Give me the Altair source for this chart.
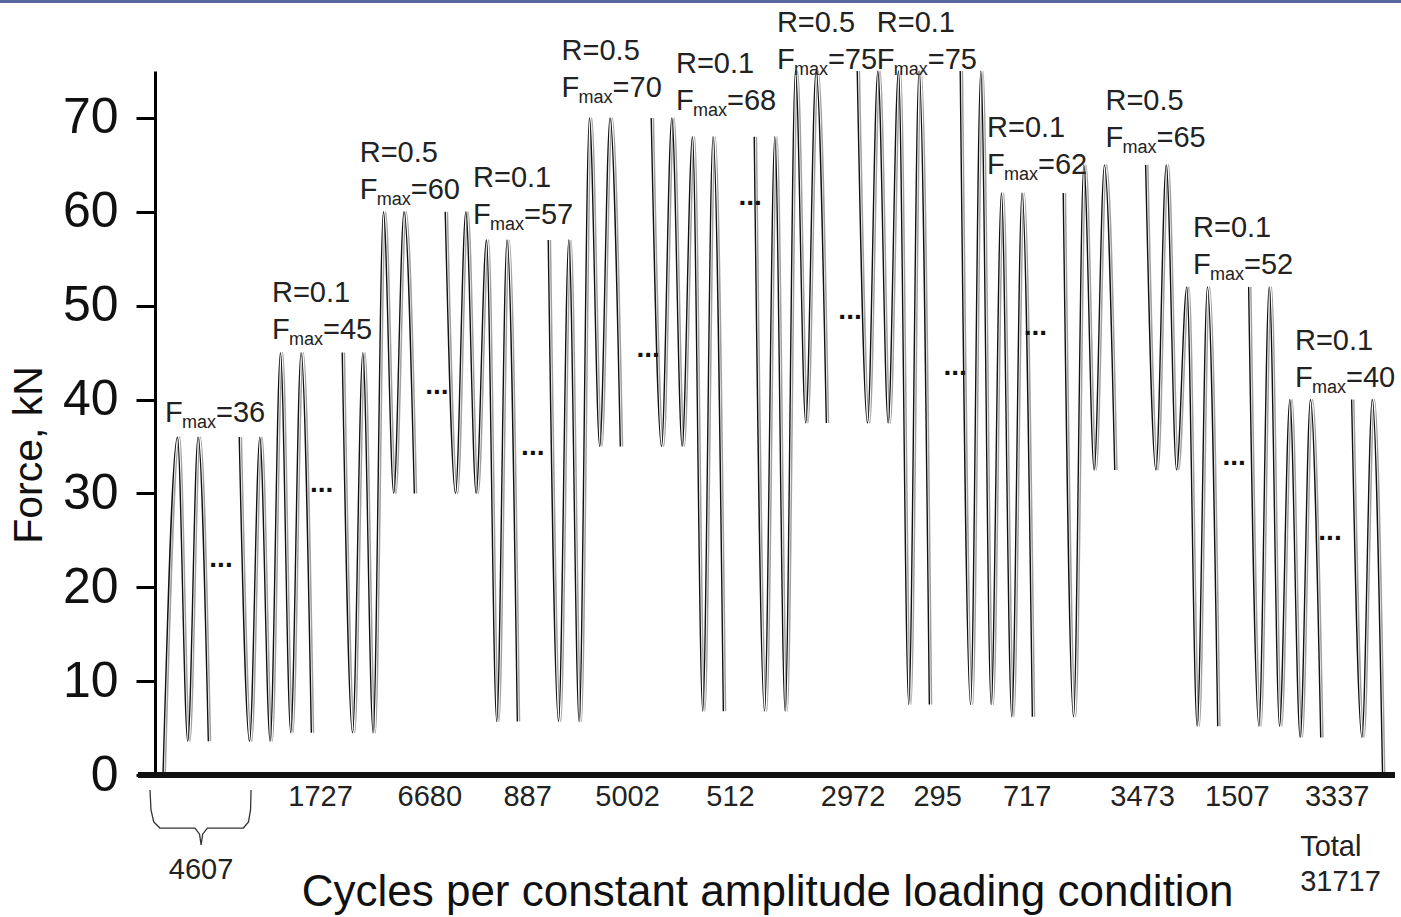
import altair as alt
import pandas as pd

# ---------------- data ----------------
fmax = [36, 45, 60, 57, 70, 68, 75, 75, 62, 65, 52, 40]          # kN
r_ratio = [0.1, 0.1, 0.5, 0.1, 0.5, 0.1, 0.5, 0.1, 0.1, 0.5, 0.1, 0.1]
cycles = ["4607", "1727", "6680", "887", "5002", "512", "2972", "295",
          "717", "3473", "1507", "3337"]
total_cycles = "31717"
restart_half = [3, 3, 3, 3, 3, 3, 3, 3, 1, 3, 3, 2]   # half cycles drawn after the "..."
show_r = [False] + [True] * 11
dots_level = [22.4, 30.4, 40.8, 34.3, 44.7, 60.9, 48.8, 42.8, 47.1, None, 33.2, 25.2]
y_ticks = [0, 10, 20, 30, 40, 50, 60, 70]

# ---------------- layout (half-cycle units / kN) ----------------
first_rise = 1.4
gap = 3
dots_shift = [1.23, 1.0, 2.2, 1.5, 2.7, 2.6, 2.3, 2.5, 0.3, None, 1.6, 0.9]
count_shift = [None, 0.9, 1.5, 1.0, 0.7, 0.7, 2.6, 0.8, -0.5, 2.7, 1.9, 1.6]
label_t = [0.19, 10.58, 19.1, 30.1, 38.7, 49.8, 59.6, 69.3, 80.0, 91.5, 100.0, 109.9]
label_v = [38.6, 47.4, 62.3, 59.7, 73.2, 71.8, 76.2, 76.2, 65.0, 67.9, 54.3, 42.3]

FONT = "Liberation Sans"

# ---------------- build waveform from the block list ----------------
rows = []
seg = 0
rows.append({"seg": seg, "t": 0.0, "F": 0.0})
t = first_rise
vend = []
for i, (fm, r) in enumerate(zip(fmax, r_ratio)):
    lo = fm * r
    for k, v in enumerate([fm, lo, fm, lo]):
        rows.append({"seg": seg, "t": t + k, "F": v})
    ve = t + 3
    vend.append(ve)
    seg += 1
    tr = ve + gap
    n = restart_half[i]
    vals = [fm] + [lo if j % 2 == 0 else fm for j in range(n)]
    for k, v in enumerate(vals):
        rows.append({"seg": seg, "t": tr + k, "F": v})
    if i == len(fmax) - 1:
        rows.append({"seg": seg, "t": tr + n + 1, "F": 0.0})
    t = tr + n + 1
wave = pd.DataFrame(rows)

dots = pd.DataFrame([
    {"t": vend[i] + dots_shift[i], "F": dots_level[i]}
    for i in range(len(fmax)) if dots_level[i] is not None
])

counts = pd.DataFrame([
    {"t": vend[i] + count_shift[i], "F": -2.34, "txt": cycles[i]}
    for i in range(1, len(fmax))
])

labels = pd.DataFrame({
    "t": label_t, "F": label_v,
    "r": [f"R={r}" for r in r_ratio],
    "eq": [f"={f}" for f in fmax],
    "show": show_r,
})

x_scale = alt.Scale(domain=[-0.777, 119.61], nice=False, zero=False)
y_scale = alt.Scale(domain=[0, 75], nice=False, zero=False)
Y_AXIS = alt.Axis(
    values=y_ticks, grid=False, domainColor="black", domainWidth=3,
    tickColor="black", tickWidth=3, tickSize=19, labelFont=FONT,
    labelFontSize=50, labelColor="#111", labelPadding=18, title=None)
X = lambda: alt.X("t:Q", scale=x_scale, axis=None)
Y = lambda: alt.Y("F:Q", scale=y_scale, axis=Y_AXIS)

wave_gray = alt.Chart(wave).mark_line(
    interpolate="monotone", color="#a0a0a0", strokeWidth=1.5, xOffset=2.2
).encode(x=X(), y=Y(), detail="seg:N")
wave_black = alt.Chart(wave).mark_line(
    interpolate="monotone", color="#111", strokeWidth=1.4
).encode(x=X(), y=Y(), detail="seg:N")

dots_layer = alt.Chart(dots).mark_text(
    text="...", font=FONT, fontSize=28, fontWeight="bold", baseline="alphabetic",
    dy=2, color="#111"
).encode(x=X(), y=Y())

LAB = 29
base_lab = alt.Chart(labels)
r_layer = base_lab.transform_filter("datum.show").mark_text(
    font=FONT, fontSize=LAB, align="left", baseline="middle", dy=-37, color="#222"
).encode(x=X(), y=Y(), text="r:N")
f_layer = base_lab.mark_text(
    text="F", font=FONT, fontSize=LAB, align="left", baseline="middle", color="#222"
).encode(x=X(), y=Y())
max_layer = base_lab.mark_text(
    text="max", font=FONT, fontSize=18, align="left", baseline="middle",
    dx=17, dy=10, color="#222"
).encode(x=X(), y=Y())
eq_layer = base_lab.mark_text(
    font=FONT, fontSize=LAB, align="left", baseline="middle", dx=51, color="#222"
).encode(x=X(), y=Y(), text="eq:N")

count_layer = alt.Chart(counts).mark_text(
    font=FONT, fontSize=29, align="center", baseline="middle", color="#222"
).encode(x=X(), y=Y(), text="txt:N")

# x axis line
axis_df = pd.DataFrame({"t": [-2.43], "t2": [119.61], "F": [0.0]})
x_axis_line = alt.Chart(axis_df).mark_rule(color="#111", strokeWidth=6).encode(
    x=X(), x2="t2:Q", y=Y()
)

# brace under first block
brace_pts = [(-1.26, -1.6), (-1.17, -3.7), (-0.9, -5.0), (-0.3, -5.65),
             (3.1, -5.65), (3.55, -6.3), (3.7, -7.46), (3.85, -6.3), (4.3, -5.65),
             (7.8, -5.65), (8.3, -5.0), (8.5, -3.7), (8.55, -1.6)]
brace = pd.DataFrame({"t": [p[0] for p in brace_pts], "F": [p[1] for p in brace_pts],
                      "o": list(range(len(brace_pts)))})
brace_layer = alt.Chart(brace).mark_line(color="#333", strokeWidth=1.3).encode(
    x=X(), y=Y(), order="o:Q"
)

notes = pd.DataFrame({
    "t": [3.7, 110.4, 110.4],
    "F": [-10.1, -7.67, -11.4],
    "txt": [cycles[0], "Total", total_cycles],
})
note_c = alt.Chart(notes.iloc[[0]]).mark_text(
    font=FONT, fontSize=29, align="center", baseline="middle", color="#222"
).encode(x=X(), y=Y(), text="txt:N")
note_l = alt.Chart(notes.iloc[[1, 2]]).mark_text(
    font=FONT, fontSize=29, align="left", baseline="middle", color="#222"
).encode(x=X(), y=Y(), text="txt:N")

titles = pd.DataFrame({"t": [58.7], "F": [-12.57]})
x_title = alt.Chart(titles).mark_text(
    text="Cycles per constant amplitude loading condition", font=FONT, fontSize=44,
    align="center", baseline="middle", color="#111"
).encode(x=X(), y=Y())
ytitle_df = pd.DataFrame({"t": [-12.9], "F": [34.1]})
y_title = alt.Chart(ytitle_df).mark_text(
    text="Force, kN", font=FONT, fontSize=41, angle=270,
    align="center", baseline="middle", color="#111"
).encode(x=X(), y=Y())

top_df = pd.DataFrame({"t": [-15.83], "t2": [120.2], "F": [82.4]})
top_line = alt.Chart(top_df).mark_rule(color="#5a68a0", strokeWidth=3).encode(
    x=X(), x2="t2:Q", y=Y()
)

chart = alt.layer(
    wave_gray, wave_black, x_axis_line, dots_layer, r_layer, f_layer, max_layer,
    eq_layer, count_layer, brace_layer, note_c, note_l, x_title, y_title, top_line
).properties(
    width=1240, height=704,
    autosize=alt.AutoSizeParams(type="none"),
    padding={"left": 155, "top": 71, "right": 6, "bottom": 142},
    background="white",
).configure_view(stroke=None)

chart.save("out.html", embed_options={"renderer": "svg", "actions": False})
